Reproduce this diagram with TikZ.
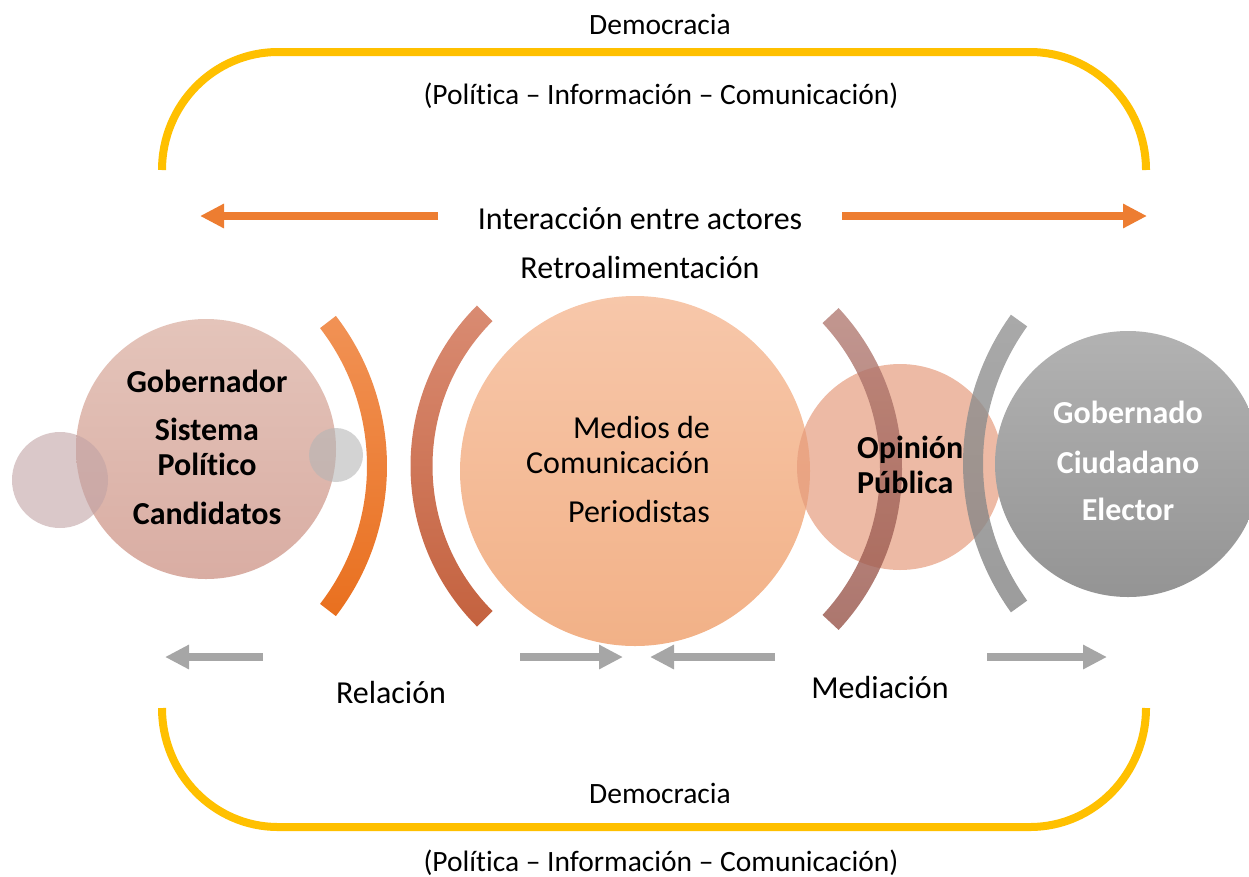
\documentclass[tikz,border=0pt]{standalone}
\usepackage{fontspec}
\setmainfont{Carlito}[Ligatures=CommonOff]
\usetikzlibrary{arrows.meta}
\definecolor{yel}{HTML}{FFC000}
\definecolor{org}{HTML}{ED7D31}
\definecolor{agray}{HTML}{A6A6A6}
\definecolor{lctop}{HTML}{E4C4BA}
\definecolor{lcbot}{HTML}{D9ADA3}
\definecolor{mctop}{HTML}{F7C7AA}
\definecolor{mcbot}{HTML}{F2B187}
\definecolor{opc}{HTML}{E59A7A}
\definecolor{gctop}{HTML}{B2B2B2}
\definecolor{gcbot}{HTML}{949494}
\definecolor{aonetop}{HTML}{F19255}
\definecolor{aonebot}{HTML}{E9701F}
\definecolor{atwotop}{HTML}{D98B72}
\definecolor{atwobot}{HTML}{C4623F}
\definecolor{athrtop}{HTML}{B27C74}
\definecolor{athrbot}{HTML}{985449}
\definecolor{afourtop}{HTML}{939393}
\definecolor{afourbot}{HTML}{838383}
\definecolor{smallpink}{HTML}{C1A3A5}
\definecolor{smallgray}{HTML}{B5B5B5}
\begin{document}
\begin{tikzpicture}[x=1pt,y=-1pt,
  bracket/.style={draw=yel,line width=8pt},
  bigarrow/.style={draw=org,line width=8pt,-{Triangle[length=24pt,width=23pt]}},
  grayarrow/.style={draw=agray,line width=8pt,-{Triangle[length=24pt,width=23pt]}},
  toptext/.style={anchor=base,inner sep=0pt,font=\fontsize{29.5}{35}\selectfont},
  midtext/.style={anchor=base,inner sep=0pt,font=\fontsize{32}{38}\selectfont},
  boldtext/.style={anchor=base,inner sep=0pt,font=\fontsize{32}{38}\selectfont\bfseries}]
\useasboundingbox (0,0) rectangle (1249,876);
\begin{scope}
\clip (0,0) rectangle (1249,876);
% yellow brackets
\draw[bracket] (162,170) arc[start angle=180,end angle=270,x radius=116,y radius=118]
  -- (1030,52) arc[start angle=270,end angle=360,x radius=116,y radius=118];
\draw[bracket] (162,708) arc[start angle=180,end angle=90,x radius=116,y radius=119]
  -- (1030,827) arc[start angle=90,end angle=0,x radius=116,y radius=119];
% left circle group
\shade[top color=lctop,bottom color=lcbot] (206,449) circle (130);
\fill[smallpink,fill opacity=0.6] (60,480) circle (48);
\fill[smallgray,fill opacity=0.6] (336,455) circle (27);
% arc 1
\shade[top color=aonetop,bottom color=aonebot] (141,466) ++(-37.6:226)
  arc[start angle=-37.6,end angle=37.6,radius=226] -- ++(37.6:20)
  arc[start angle=37.6,end angle=-37.6,radius=246] -- cycle;
% arc 2
\shade[top color=atwotop,bottom color=atwobot] (637.5,466) ++(135:205)
  arc[start angle=135,end angle=225,radius=205] -- ++(225:22)
  arc[start angle=225,end angle=135,radius=227] -- cycle;
% medios circle
\shade[top color=mctop,bottom color=mcbot] (635,471) circle (175);
% opinion circle
\fill[opc,fill opacity=0.68] (900,467) circle (103);
% gobernado circle
\shade[top color=gctop,bottom color=gcbot] (1128,464) circle (133);
% arc 3
\shade[top color=athrtop,bottom color=athrbot,fill opacity=0.8] (666,469) ++(-43:214)
  arc[start angle=-43,end angle=43,radius=214] -- ++(43:22)
  arc[start angle=43,end angle=-43,radius=236] -- cycle;
% arc 4
\shade[top color=afourtop,bottom color=afourbot,fill opacity=0.8] (1218,463.5) ++(144.3:235)
  arc[start angle=144.3,end angle=215.7,radius=235] -- ++(215.7:20)
  arc[start angle=215.7,end angle=144.3,radius=255] -- cycle;
\end{scope}
% texts
\node[toptext] (demtop) at (660,34) {Democracia};
\node[toptext] (pictop) at (661,104) {(Política – Información – Comunicación)};
\node[toptext] (dembot) at (660,803) {Democracia};
\node[toptext] (picbot) at (661,871) {(Política – Información – Comunicación)};
\node[midtext] (inter) at (640,229) {Interacción entre actores};
\node[midtext] (retro) at (640,278) {Retroalimentación};
\node[midtext] (rel) at (391,703) {Relación};
\node[midtext] (med) at (880,698) {Mediación};
\node[boldtext] (gob) at (207,392) {Gobernador};
\node[boldtext] (sis) at (207,440) {Sistema};
\node[boldtext] (pol) at (207,475) {Político};
\node[boldtext] (cand) at (207,524) {Candidatos};
\node[midtext,anchor=base east] (medios) at (710,438) {Medios de};
\node[midtext,anchor=base east] (comu) at (710,473) {Comunicación};
\node[midtext,anchor=base east] (perio) at (710,522) {Periodistas};
\node[boldtext,anchor=base west] (opi) at (857,458) {Opinión};
\node[boldtext,anchor=base west] (pub) at (857,493) {Pública};
\node[boldtext,text=white] (gobdo) at (1128,423) {Gobernado};
\node[boldtext,text=white] (ciu) at (1128,473) {Ciudadano};
\node[boldtext,text=white] (ele) at (1128,520) {Elector};
% arrows
\coordinate (oL) at (200,216);
\coordinate (oR) at (1147,216);
\coordinate (oLs) at (438,216);
\coordinate (oRs) at (842,216);
\draw[bigarrow] (oLs) -- (oL);
\draw[bigarrow] (oRs) -- (oR);
\coordinate (g1s) at (263,657);
\coordinate (g1e) at (165,657);
\coordinate (g2s) at (520,657);
\coordinate (g2e) at (623,657);
\coordinate (g3s) at (775,657);
\coordinate (g3e) at (650,657);
\coordinate (g4s) at (987,657);
\coordinate (g4e) at (1107,657);
\draw[grayarrow] (g1s) -- (g1e);
\draw[grayarrow] (g2s) -- (g2e);
\draw[grayarrow] (g3s) -- (g3e);
\draw[grayarrow] (g4s) -- (g4e);
\end{tikzpicture}
\end{document}
